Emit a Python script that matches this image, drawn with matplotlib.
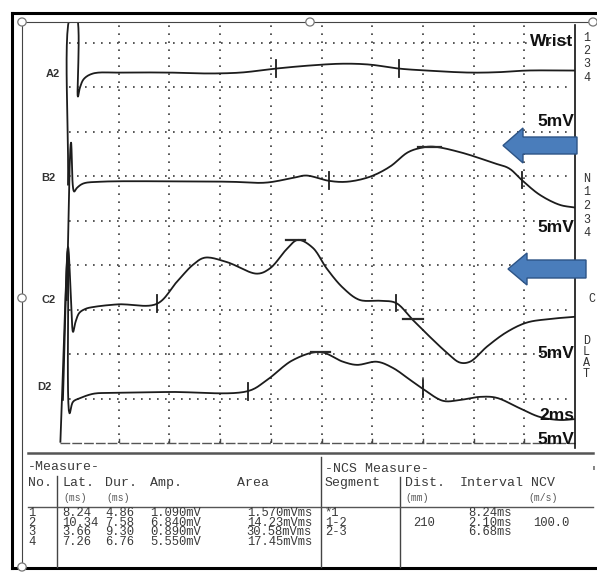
import numpy as np
import matplotlib
matplotlib.use("Agg")
import matplotlib.pyplot as plt
from matplotlib.lines import Line2D
from matplotlib.patches import Polygon, Circle
from matplotlib.font_manager import FontProperties

W, H, DPI = 597, 572, 100

# ---------------- data (time in ms, amplitude in mV relative to baseline) ----
trace_names = ["A2", "B2", "C2", "D2"]
baselines = [41.67, 29.39, 15.65, 5.74]

a2_t = [0.0, 0.12, 0.32, 0.39, 0.47, 0.63, 0.99, 2.05, 4.02, 5.6, 6.8, 7.57, 8.2,
        9.55, 10.85, 11.9, 13.06, 14.16, 15.86, 17.0, 18.1, 20.0]
a2_v = [-12.6, 6.5, 6.5, -2.7, -1.7, -0.7, -0.1, 0.0, 0.0, -0.1, 0.0, 0.23, 0.45,
        0.8, 1.0, 0.9, 0.45, 0.23, 0.0, 0.05, 0.23, 0.23]

b2_t = [-0.05, 0.12, 0.24, 0.35, 0.6, 1.26, 4.0, 6.4, 7.8, 8.9, 9.4, 10.3, 11.0,
        11.9, 12.7, 13.4, 13.9, 14.4, 15.5, 16.8, 17.4, 17.9, 18.6, 19.4, 20.0]
b2_v = [-13.3, 4.4, -1.1, -0.7, -0.2, 0.0, 0.05, 0.0, -0.1, 0.45, 0.7, 0.1, 0.0,
        0.55, 1.7, 3.3, 3.8, 3.95, 3.3, 2.1, 1.5, 0.2, -1.45, -2.6, -2.9]

c2_t = [-0.2, 0.0, 0.12, 0.2, 0.3, 0.45, 0.7, 1.0, 2.0, 3.5, 4.3, 4.93, 5.4, 6.27,
        7.46, 7.97, 8.64, 9.07, 9.66, 10.2, 10.85, 11.5, 12.3, 12.94, 13.6, 14.4,
        14.95, 15.46, 15.86, 16.53, 17.32, 18.1, 19.0, 20.0]
c2_v = [-10.8, 6.4, 0.5, -3.15, -2.0, -1.0, -0.55, -0.35, -0.05, 0.0, 2.5, 4.4, 5.2,
        4.7, 3.4, 4.0, 6.2, 7.2, 6.3, 4.0, 1.8, 0.45, 0.35, 0.1, -1.8, -4.05, -5.5,
        -6.6, -6.5, -4.8, -3.15, -2.1, -1.7, -1.45]

d2_t = [-0.3, 0.0, 0.06, 0.2, 0.47, 1.0, 1.66, 4.0, 7.1, 7.85, 8.88, 9.94, 10.85,
        11.4, 12.19, 12.82, 13.5, 14.0, 14.8, 15.46, 16.25, 16.9, 17.8, 18.6, 19.4, 20.0]
d2_v = [-5.6, 16.0, -2.4, -1.1, -0.7, -0.2, -0.1, 0.0, 0.1, 1.35, 3.6, 4.5, 3.4,
        3.05, 3.4, 2.7, 1.35, 0.35, -1.0, -0.9, -0.55, -0.65, -1.8, -2.8, -3.15, -3.05]

traces_t = [a2_t, b2_t, c2_t, d2_t]
traces_v = [a2_v, b2_v, c2_v, d2_v]

# latency cursors (ms)
cursor_t = [[8.2, 13.06], [10.3, 17.9], [3.5, 12.94], [7.1, 14.0]]
# amplitude dashes: (trace index, t start, t end, mV)
amp_marks = [(1, 13.8, 14.7, 3.95), (2, 8.6, 9.35, 7.2), (2, 13.2, 14.0, -1.7),
             (3, 9.6, 10.35, 4.5)]

# measurement table
meas_no = ["1", "2", "3", "4"]
meas_lat = ["8.24", "10.34", "3.66", "7.26"]
meas_dur = ["4.86", "7.58", "9.30", "6.76"]
meas_amp = ["1.090mV", "6.840mV", "0.890mV", "5.550mV"]
meas_area = ["1.570mVms", "14.23mVms", "30.58mVms", "17.45mVms"]
ncs_seg = ["*1", "1-2", "2-3"]
ncs_dist = ["", "210", ""]
ncs_int = ["8.24ms", "2.10ms", "6.68ms"]
ncs_ncv = ["", "100.0", ""]

# ---------------- helpers ----------------
PX_MS = 25.35
PX_MV = 8.889


def smooth(t, v, n=14):
    P = np.column_stack([np.asarray(t) * PX_MS, np.asarray(v) * PX_MV])
    P = np.vstack([2 * P[0] - P[1], P, 2 * P[-1] - P[-2]])
    out = []
    for i in range(1, len(P) - 2):
        p0, p1, p2, p3 = P[i - 1], P[i], P[i + 1], P[i + 2]
        t0 = 0.0
        t1 = t0 + max(np.linalg.norm(p1 - p0), 1e-3) ** 0.5
        t2 = t1 + max(np.linalg.norm(p2 - p1), 1e-3) ** 0.5
        t3 = t2 + max(np.linalg.norm(p3 - p2), 1e-3) ** 0.5
        tt = np.linspace(t1, t2, n)[:, None]
        A1 = (t1 - tt) / (t1 - t0) * p0 + (tt - t0) / (t1 - t0) * p1
        A2 = (t2 - tt) / (t2 - t1) * p1 + (tt - t1) / (t2 - t1) * p2
        A3 = (t3 - tt) / (t3 - t2) * p2 + (tt - t2) / (t3 - t2) * p3
        B1 = (t2 - tt) / (t2 - t0) * A1 + (tt - t0) / (t2 - t0) * A2
        B2 = (t3 - tt) / (t3 - t1) * A2 + (tt - t1) / (t3 - t1) * A3
        C = (t2 - tt) / (t2 - t1) * B1 + (tt - t1) / (t2 - t1) * B2
        out.append(C if i == 1 else C[1:])
    C = np.vstack(out)
    return C[:, 0] / PX_MS, C[:, 1] / PX_MV


fig = plt.figure(figsize=(W / DPI, H / DPI), dpi=DPI)
fig.patch.set_facecolor("white")


def fx(x):
    return x / W


def fy(y):
    return 1 - y / H


def pline(xs, ys, **kw):
    fig.add_artist(Line2D([fx(x) for x in xs], [fy(y) for y in ys],
                          transform=fig.transFigure, **kw))


def ptext(x, y, s, **kw):
    kw.setdefault("va", "center")
    return fig.text(fx(x), fy(y), s, **kw)


# ---------------- main trace axes ----------------
L, R, T, B = 22, 575, 22, 443
ax = fig.add_axes([fx(L), fy(B), (R - L) / W, (B - T) / H])
ax.set_xlim((L - 68) / PX_MS, 20.0)
ax.set_ylim(0, (B - T) / PX_MV)
ax.axis("off")

ymax = (B - T) / PX_MV
grid_kw = dict(color="#3a3a3a", lw=1.2, ls=(0, (1, 3.8)))
for gx in np.arange(2, 20, 2):
    ax.plot([gx, gx], [0, ymax], **grid_kw)
for gy in np.arange(5, 50, 5):
    ax.plot([0.05, 19.9], [gy, gy], **grid_kw)

# bottom time axis
ax.plot([-0.3, 20], [0, 0], color="#555555", lw=1.0, ls=(0, (7, 1.5)), clip_on=False)
for gx in np.arange(2, 20, 2):
    ax.plot([gx, gx], [0, 0.45], color="#444444", lw=1.0)
# right solid edge
ax.plot([20, 20], [-0.6, (B - 25) / PX_MV], color="#111111", lw=1.2, clip_on=False)

for k in range(4):
    tt, vv = smooth(traces_t[k], traces_v[k])
    ax.plot(tt, baselines[k] + vv, color="#1c1c1c", lw=1.3, solid_joinstyle="round")
    for ct in cursor_t[k]:
        cv = np.interp(ct, tt, vv) + baselines[k]
        ax.plot([ct, ct], [cv - 0.95, cv + 0.95], color="#1c1c1c", lw=1.3)
for k, t0, t1, mv in amp_marks:
    ax.plot([t0, t1], [baselines[k] + mv] * 2, color="#2a2a2a", lw=1.6)

# ---------------- frame ----------------
pline([12, 597], [13, 13], color="black", lw=2.2)
pline([12, 12], [13, 568], color="black", lw=2.2)
pline([12, 597], [568, 568], color="black", lw=2.2)
pline([22, 597], [22, 22], color="#444444", lw=0.8)
pline([22, 22], [22, 568], color="#444444", lw=0.8)
for cx, cy in [(22, 22), (310, 22), (22, 298), (22, 567), (593, 22)]:
    fig.add_artist(Circle((fx(cx), fy(cy)), radius=4.2 / W, transform=fig.transFigure,
                          facecolor="white", edgecolor="#777777", lw=0.9, zorder=10))


# ---------------- arrows ----------------
def arrow(tip_x, tip_y, head_x, head_h, body_h, tail_x):
    pts = [(tip_x, tip_y), (head_x, tip_y - head_h), (head_x, tip_y - body_h),
           (tail_x, tip_y - body_h), (tail_x, tip_y + body_h), (head_x, tip_y + body_h),
           (head_x, tip_y + head_h)]
    fig.add_artist(Polygon([(fx(x), fy(y)) for x, y in pts], closed=True,
                           transform=fig.transFigure, facecolor="#4a7dbb",
                           edgecolor="#2d5486", lw=1.0, zorder=12))


arrow(503, 145.5, 523, 17.5, 8.5, 577)
arrow(508, 269, 527, 16, 9, 586)

# ---------------- right-side labels ----------------
bold = dict(family="Liberation Sans", fontweight="bold", fontsize=12.5, color="#111111",
            ha="right")
ptext(573, 42, "Wrist", **bold)
ptext(574, 121, "5mV", **bold)
ptext(574, 228, "5mV", **bold)
ptext(574, 353, "5mV", **bold)
ptext(574, 416, "2ms", **bold)
ptext(574, 439, "5mV", **bold)

small = dict(family="Liberation Mono", fontsize=8.5, color="#333333", ha="left")
for s, y in zip(["1", "2", "3", "4"], [38, 51, 64, 78]):
    ptext(583, y, s, **small)
for s, y in zip(["N", "1", "2", "3", "4"], [179, 192, 206, 220, 233]):
    ptext(583, y, s, **small)
ptext(588, 299, "C", **small)
for s, y in zip(["D", "L", "A", "T"], [341, 352, 363, 374]):
    ptext(583, y, s, **small)

lab = dict(family="Liberation Sans", fontweight="bold", fontsize=8, color="#333333",
           ha="left")
for s, x, y in zip(trace_names, [46, 41, 41, 37], [74, 178, 300, 387]):
    ptext(x, y, s, **lab)

# ---------------- table ----------------
TFONT = "Liberation Mono"
TSIZE = 9.5
RSIZE = 8.7
tb = dict(family=TFONT, fontsize=TSIZE, color="#3a3a3a", ha="left")
tr = dict(family=TFONT, fontsize=RSIZE, color="#3a3a3a", ha="left")
tbs = dict(family=TFONT, fontsize=7, color="#555555", ha="left")
pline([28, 593], [452.5, 452.5], color="#555555", lw=1.8)
pline([57, 57], [476, 567], color="#444444", lw=1.0)
pline([321, 321], [457, 567], color="#444444", lw=1.0)
pline([400, 400], [477, 567], color="#444444", lw=1.0)
pline([28, 593], [507, 507], color="#555555", lw=1.0)

ptext(28, 467, "-Measure-", **tb)
ptext(28, 483, "No.", **tb)
ptext(62, 483, "Lat.", **tb)
ptext(105, 483, "Dur.", **tb)
ptext(150, 483, "Amp.", **tb)
ptext(237, 483, "Area", **tb)
ptext(63, 498, "(ms)", **tbs)
ptext(106, 498, "(ms)", **tbs)
ptext(325, 469, "-NCS Measure-", **tb)
ptext(325, 483, "Segment", **tb)
ptext(405, 483, "Dist.", **tb)
ptext(405, 498, "(mm)", **tbs)
ptext(460, 483, "Interval", **tb)
ptext(531, 483, "NCV", **tb)
ptext(528, 498, "(m/s)", **tbs)
ptext(590, 472, "'", **tb)

# rows as multi-line columns with tight line pitch (like the printout)
renderer = fig.canvas.get_renderer()
_, lp_h, lp_d = renderer.get_text_width_height_descent(
    "lp", FontProperties(family=TFONT, size=RSIZE), ismath=False)
ROW_PITCH = 9.7
ROW1_BASE = 516.0
lsp = (ROW_PITCH - lp_d) / (lp_h - lp_d)
top_y = ROW1_BASE - (lp_h - lp_d)


def column(x, items, ha="left"):
    fig.text(fx(x), fy(top_y), "\n".join(items), va="top", linespacing=lsp,
             **{**tr, "ha": ha, "multialignment": ha})


column(28, meas_no)
column(62, meas_lat)
column(105, meas_dur)
column(150, meas_amp)
column(312, meas_area, ha="right")
column(325, ncs_seg)
column(413, ncs_dist)
column(468, ncs_int)
column(533, ncs_ncv)

fig.savefig("out.png", dpi=DPI, facecolor="white")
